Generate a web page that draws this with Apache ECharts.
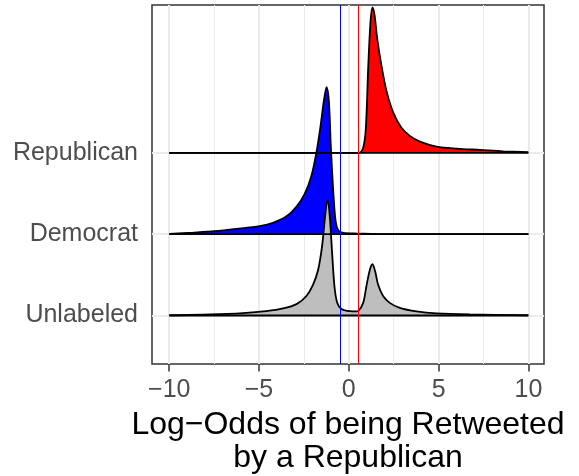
<!DOCTYPE html>
<html>
  <head>
    <title></title>
    <meta charset="UTF-8" />
    <script src="https://cdn.jsdelivr.net/npm/echarts@6/dist/echarts.min.js"></script>
  </head>
  <body style="margin:0">
    <div id="main"></div>
    <script>
      const width = 579;
      const height = 476;
      const main = document.getElementById('main');
      main.style.width = `${width}px`;
      main.style.height = `${height}px`;

      // ridge rows, bottom to top (row position = index + 1)
      const categories = ['Unlabeled', 'Democrat', 'Republican'];
      const fills = ['#bebebe', '#0000ff', '#ff0000'];

      // density heights (in row units)
      const unlabeledX = [-10, -7.74, -5.89, -4.59, -3.66, -2.91, -2.36, -1.99, -1.71, -1.49, -1.32, -1.19, -1.06, -0.93, -0.8, -0.65, -0.41, 0.06, 0.43, 0.52, 0.8, 0.98, 1.17, 1.32, 1.47, 1.63, 1.91, 2.28, 2.84, 3.77, 4.89, 6.74, 10];
      const unlabeledH = [0.003, 0.012, 0.029, 0.053, 0.086, 0.14, 0.24, 0.38, 0.56, 0.85, 1.22, 1.42, 1.22, 0.77, 0.36, 0.16, 0.08, 0.053, 0.05, 0.053, 0.155, 0.36, 0.56, 0.63, 0.54, 0.38, 0.24, 0.155, 0.094, 0.05, 0.025, 0.012, 0.003];

      const democratX = [-10, -8.67, -7.47, -6.26, -4.96, -4.22, -3.47, -2.91, -2.45, -2.08, -1.8, -1.58, -1.39, -1.24, -1.11, -1.0, -0.87, -0.74, -0.59, -0.3, 0.5, 1.2, 2.0, 10];
      const democratH = [0.004, 0.02, 0.037, 0.065, 0.1, 0.14, 0.22, 0.34, 0.5, 0.72, 1.01, 1.32, 1.64, 1.81, 1.64, 1.07, 0.54, 0.17, 0.05, 0.015, 0.008, 0.004, 0.001, 0];

      const republicanX = [-10, 0.55, 0.8, 0.95, 1.08, 1.21, 1.32, 1.43, 1.58, 1.82, 2.1, 2.47, 2.93, 3.4, 3.96, 4.89, 6.0, 7.3, 8.6, 10];
      const republicanH = [0, 0, 0.065, 0.31, 1.05, 1.62, 1.79, 1.7, 1.41, 1.07, 0.76, 0.5, 0.31, 0.21, 0.14, 0.078, 0.053, 0.037, 0.02, 0.008];

      const majorX = [-10, -5, 0, 5, 10];
      const minorX = [-7.5, -2.5, 2.5, 7.5];
      const refLines = [-0.5, 0.5];
      const refColors = ['#0000ff', '#ff0000'];

      const ridges = [
        { x: republicanX, h: republicanH, row: 3 },
        { x: democratX, h: democratH, row: 2 },
        { x: unlabeledX, h: unlabeledH, row: 1 }
      ];

      const fmtX = v => (v < 0 ? '\u2212' + Math.abs(v) : String(v));

      const gridLines = [];
      majorX.forEach(v => gridLines.push({ xAxis: v, lineStyle: { width: 2 } }));
      minorX.forEach(v => gridLines.push({ xAxis: v, lineStyle: { width: 1 } }));
      categories.forEach((c, i) => gridLines.push({ yAxis: i + 1, lineStyle: { width: 2 } }));

      const series = [
        {
          type: 'line',
          data: [],
          z: 1,
          silent: true,
          markLine: {
            z: 1,
            silent: true,
            symbol: 'none',
            animation: false,
            label: { show: false },
            lineStyle: { type: 'solid', color: '#ebebeb' },
            data: gridLines
          }
        }
      ];

      ridges.forEach(r => {
        const first = r.x[0];
        const last = r.x[r.x.length - 1];
        series.push({
          name: categories[r.row - 1],
          type: 'line',
          z: 2,
          smooth: 0.3,
          showSymbol: false,
          animation: false,
          lineStyle: { color: '#000', width: 1.8 },
          areaStyle: { color: fills[r.row - 1], opacity: 1, origin: r.row },
          data: r.x.map((x, i) => [x, r.row + r.h[i]])
        });
        // baseline outline of the ridge
        series.push({
          type: 'line',
          z: 2,
          showSymbol: false,
          animation: false,
          silent: true,
          lineStyle: { color: '#000', width: 1.8 },
          data: [[first, r.row], [last, r.row]]
        });
      });

      series.push({
        type: 'line',
        data: [],
        z: 5,
        silent: true,
        markLine: {
          z: 10,
          silent: true,
          symbol: 'none',
          animation: false,
          label: { show: false },
          data: refLines.map((v, i) => ({ xAxis: v, lineStyle: { type: 'solid', color: refColors[i], width: 1 } }))
        }
      });

      const myChart = echarts.init(main);
      const option = {
        animation: false,
        grid: {
          left: 152,
          top: 5,
          width: 392,
          height: 359,
          outerBoundsMode: 'none',
          containLabel: false,
          show: true,
          borderColor: '#333',
          borderWidth: 1.5,
          backgroundColor: '#fff'
        },
        xAxis: {
          type: 'value',
          min: -10.96,
          max: 10.87,
          axisLine: { show: false },
          splitLine: { show: false },
          axisTick: { customValues: majorX, length: 7.5, lineStyle: { color: '#333', width: 1.5 } },
          axisLabel: {
            customValues: majorX,
            formatter: fmtX,
            color: '#4d4d4d',
            fontSize: 25,
            fontFamily: 'Liberation Sans',
            margin: 14
          },
          name: 'Log\u2212Odds of being Retweeted\nby a Republican',
          nameLocation: 'middle',
          nameGap: 45,
          nameTextStyle: {
            color: '#000',
            fontSize: 32,
            fontFamily: 'Liberation Sans',
            lineHeight: 33,
            verticalAlign: 'top'
          }
        },
        yAxis: {
          type: 'value',
          min: 0.403,
          max: 4.82,
          axisLine: { show: false },
          splitLine: { show: false },
          axisTick: { customValues: [1, 2, 3], length: 7, lineStyle: { color: '#333', width: 1.5 } },
          axisLabel: {
            customValues: [1, 2, 3],
            formatter: v => categories[Math.round(v) - 1],
            color: '#4d4d4d',
            fontSize: 25,
            fontFamily: 'Liberation Sans',
            margin: 14
          }
        },
        series: series
      };
      myChart.setOption(option);
    </script>
  </body>
</html>
